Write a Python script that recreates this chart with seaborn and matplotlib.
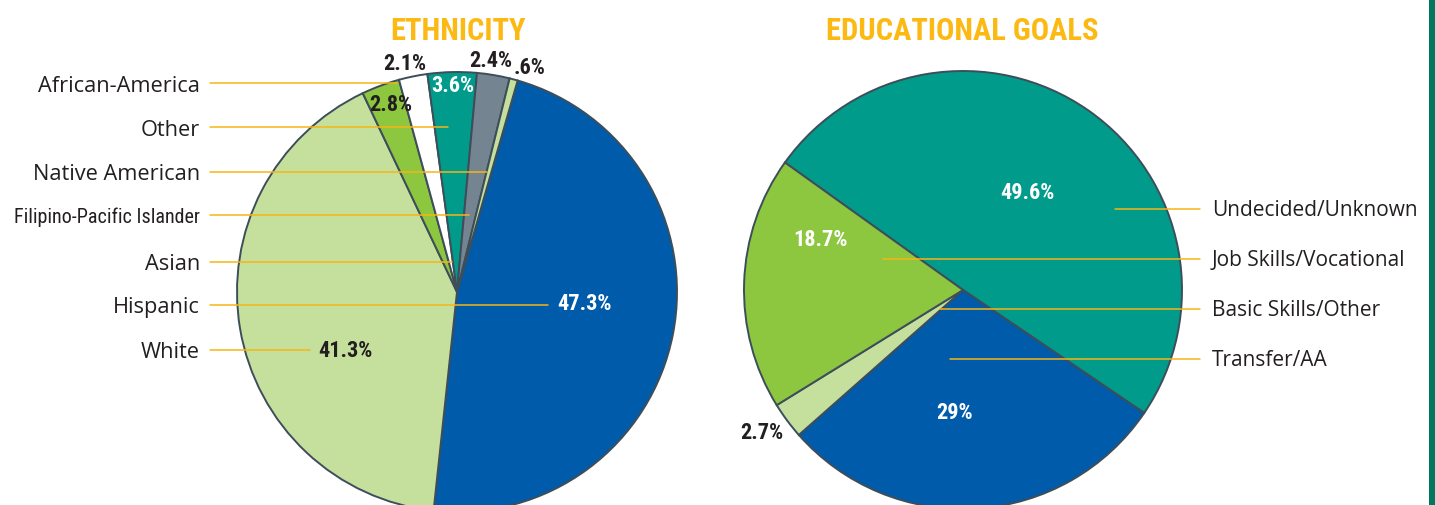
import matplotlib
matplotlib.use("Agg")
import matplotlib.pyplot as plt
import seaborn as sns

sns.set_theme(style="white")
plt.rcParams['font.family'] = ['Open Sans', 'DejaVu Sans']

# ---- data ----
eth_values = [47.3, 41.3, 2.8, 2.1, 3.6, 2.4, 0.6]
eth_pct_labels = ["47.3%", "41.3%", "2.8%", "2.1%", "3.6%", "2.4%", ".6%"]
eth_colors = ["#005BAA", "#C5E09D", "#8DC63F", "#FFFFFF", "#009B8A", "#748591", "#C5E09D"]
eth_names = ["African-America", "Other", "Native American", "Filipino-Pacific Islander",
             "Asian", "Hispanic", "White"]

goal_values = [49.6, 29.0, 2.7, 18.7]
goal_pct_labels = ["49.6%", "29%", "2.7%", "18.7%"]
goal_colors = ["#009B8A", "#005BAA", "#C5E09D", "#8DC63F"]
goal_names = ["Undecided/Unknown", "Job Skills/Vocational", "Basic Skills/Other", "Transfer/AA"]

# ---- layout (pixel space, y measured from top) ----
W, H = 1435, 506
def Y(y):
    return H - y

fig = plt.figure(figsize=(W / 100, H / 100), dpi=100)
ax = fig.add_axes([0, 0, 1, 1])

edge = "#3D4E5A"
title_col = "#FDB913"
line_col = "#F7B515"
dark = "#231F20"
cond_fam = ["Roboto Condensed", "Open Sans Condensed", "DejaVu Sans"]
cond = dict(family=cond_fam, fontstretch="condensed", fontweight="bold")

# Ethnicity pie
ax.pie(eth_values, colors=eth_colors, center=(457, Y(293)), radius=220,
       startangle=74, counterclock=False,
       wedgeprops=dict(edgecolor=edge, linewidth=1.4))
# Goals pie
ax.pie(goal_values, colors=goal_colors, center=(963, Y(291)), radius=219,
       startangle=144.4, counterclock=False,
       wedgeprops=dict(edgecolor=edge, linewidth=1.4))

ax.set_xlim(0, W)
ax.set_ylim(0, H)
ax.set_aspect("equal")
ax.axis("off")

# Titles
ax.text(458, Y(31), "ETHNICITY", ha="center", va="center", color=title_col,
        fontsize=22, **cond)
ax.text(962, Y(31), "EDUCATIONAL GOALS", ha="center", va="center", color=title_col,
        fontsize=22, **cond)

# Percent labels
eth_pct_pos = [(584, 304), (345, 351), (391, 105), (405, 64), (453, 86), (491, 61), (530, 68)]
eth_pct_col = ["white", dark, dark, dark, "white", dark, dark]
for t, (x, y), c in zip(eth_pct_labels, eth_pct_pos, eth_pct_col):
    ax.text(x, Y(y), t, ha="center", va="center", color=c, fontsize=16, **cond)

goal_pct_pos = [(1027, 193), (955, 413), (762, 433), (820, 240)]
goal_pct_col = ["white", "white", dark, "white"]
for t, (x, y), c in zip(goal_pct_labels, goal_pct_pos, goal_pct_col):
    ax.text(x, Y(y), t, ha="center", va="center", color=c, fontsize=16, **cond)

# Category labels with leader lines
eth_label_y = [84, 128, 173, 216, 263, 306, 351]
eth_line_end = [397, 448, 487, 469, 452, 548, 310]
for name, y, xe in zip(eth_names, eth_label_y, eth_line_end):
    if name.startswith("Filipino"):
        ax.text(200, Y(y + 1), name, ha="right", va="center", color=dark, fontsize=14.5,
                family=cond_fam, fontstretch="condensed")
    else:
        ax.text(200, Y(y + 2), name, ha="right", va="center", color=dark, fontsize=15.7)
    ax.plot([210, xe], [Y(y), Y(y)], color=line_col, lw=1.1)

goal_label_y = [210, 260, 310, 360]
goal_line_end = [1115, 883, 940, 950]
for name, y, xe in zip(goal_names, goal_label_y, goal_line_end):
    ax.text(1212, Y(y + 1), name, ha="left", va="center", color=dark, fontsize=15)
    ax.plot([xe, 1200], [Y(y), Y(y)], color=line_col, lw=1.1)

# Right edge green bar
ax.axvspan(1429, W, color="#00775F", lw=0)

fig.savefig("out.png", dpi=100)
